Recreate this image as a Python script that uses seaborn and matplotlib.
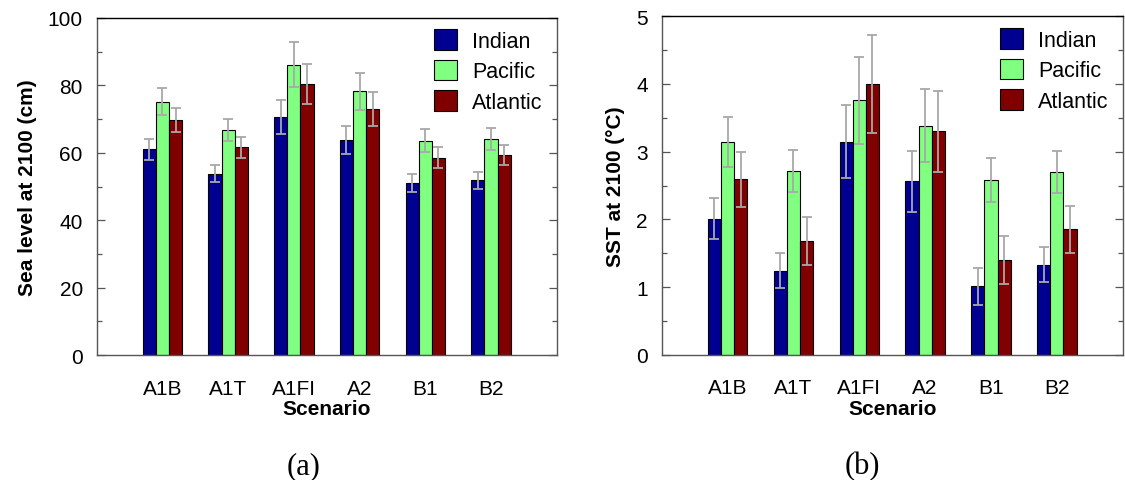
import numpy as np
import pandas as pd
import matplotlib
matplotlib.use("Agg")
import matplotlib.pyplot as plt
from matplotlib.ticker import MultipleLocator
import seaborn as sns

# Scenario categories and ocean basins
scenarios = ["A1B", "A1T", "A1FI", "A2", "B1", "B2"]
basins = ["Indian", "Pacific", "Atlantic"]

# Sea level rise at 2100 (cm) and its uncertainty
sea_indian = [61.0, 53.8, 70.6, 63.8, 51.1, 51.8]
sea_pacific = [75.2, 66.8, 86.1, 78.2, 63.6, 64.1]
sea_atlantic = [69.8, 61.6, 80.4, 72.9, 58.6, 59.4]
sea_err_indian = [3.0, 2.5, 5.1, 4.2, 2.7, 2.5]
sea_err_pacific = [4.0, 3.3, 6.7, 5.6, 3.4, 3.3]
sea_err_atlantic = [3.5, 3.0, 6.0, 5.0, 3.0, 3.0]

# SST change at 2100 (deg C) and its uncertainty
sst_indian = [2.01, 1.24, 3.15, 2.56, 1.01, 1.33]
sst_pacific = [3.14, 2.72, 3.76, 3.38, 2.58, 2.70]
sst_atlantic = [2.59, 1.68, 4.00, 3.30, 1.40, 1.85]
sst_err_indian = [0.30, 0.26, 0.54, 0.45, 0.27, 0.26]
sst_err_pacific = [0.37, 0.31, 0.64, 0.54, 0.32, 0.31]
sst_err_atlantic = [0.41, 0.35, 0.72, 0.60, 0.36, 0.34]

colors = ["#000090", "#80ff80", "#800000"]

sns.set_theme(style="white")
plt.rcParams["font.family"] = ["Liberation Sans", "DejaVu Sans"]
plt.rcParams["text.color"] = "black"
plt.rcParams["axes.labelcolor"] = "black"
plt.rcParams["xtick.labelcolor"] = "black"
plt.rcParams["ytick.labelcolor"] = "black"


def long_frame(series):
    rows = []
    for basin, vals in zip(basins, series):
        for sc, v in zip(scenarios, vals):
            rows.append({"Scenario": sc, "Basin": basin, "Value": v})
    return pd.DataFrame(rows)


def draw_panel(ax, series, errors, ylim, major, minor, ylabel, ylabelpad, legend_anchor):
    df = long_frame(series)
    sns.barplot(data=df, x="Scenario", y="Value", hue="Basin",
                order=scenarios, hue_order=basins, palette=colors,
                width=0.6, errorbar=None, saturation=1.0,
                edgecolor="black", linewidth=0.8, ax=ax)
    for cont, err in zip(ax.containers, errors):
        xs = [p.get_x() + p.get_width() / 2 for p in cont.patches]
        ys = [p.get_height() for p in cont.patches]
        ax.errorbar(xs, ys, yerr=err, fmt="none", ecolor="#a8a8a8",
                    elinewidth=1.3, capsize=3.3, capthick=1.3, zorder=5)
    ax.set_xlim(-1, 6)
    ax.set_ylim(*ylim)
    ax.yaxis.set_major_locator(MultipleLocator(major))
    ax.yaxis.set_minor_locator(MultipleLocator(minor))
    ax.tick_params(axis="y", which="major", direction="in", length=6, width=0.9,
                   color="#555555", left=True, right=True, labelsize=15, pad=10,
                   labelcolor="black")
    ax.tick_params(axis="y", which="minor", direction="in", length=3.5, width=0.9,
                   color="#555555", left=True, right=True)
    ax.tick_params(axis="x", which="both", bottom=False, top=False,
                   labelsize=15, pad=11, labelcolor="black")
    for side in ["left", "right", "bottom"]:
        ax.spines[side].set_color("#555555")
        ax.spines[side].set_linewidth(1.0)
    ax.spines["top"].set_color("black")
    ax.spines["top"].set_linewidth(1.0)
    ax.set_xlabel("Scenario", fontsize=15, fontweight="bold", labelpad=1)
    ax.set_ylabel(ylabel, fontsize=15, fontweight="bold", labelpad=ylabelpad)
    ax.legend(ax.containers, basins, loc="upper left", bbox_to_anchor=legend_anchor,
              frameon=False, fontsize=15.5, handlelength=1.07, handleheight=1.1,
              handletextpad=0.7, labelspacing=0.37, borderpad=0, borderaxespad=0)


fig = plt.figure(figsize=(11.25, 4.81), dpi=100)
W, H = 1125, 481
ax1 = fig.add_axes([96.7 / W, 1 - 356 / H, 460 / W, 337 / H])
ax2 = fig.add_axes([661.7 / W, 1 - 355.7 / H, 461 / W, 338.4 / H])

draw_panel(ax1, [sea_indian, sea_pacific, sea_atlantic],
           [sea_err_indian, sea_err_pacific, sea_err_atlantic],
           (0, 100), 20, 10, "Sea level at 2100 (cm)", 8, (0.733, 0.967))
draw_panel(ax2, [sst_indian, sst_pacific, sst_atlantic],
           [sst_err_indian, sst_err_pacific, sst_err_atlantic],
           (0, 5), 1, 0.5, "SST at 2100 (\u00b0C)", 8, (0.734, 0.965))

fig.text(303.5 / W, 1 - 467 / H, "(a)", family=["Liberation Serif", "DejaVu Serif"],
         fontsize=22, ha="center", va="center")
fig.text(862 / W, 1 - 467 / H, "(b)", family=["Liberation Serif", "DejaVu Serif"],
         fontsize=22, ha="center", va="center")

fig.savefig("out.png", dpi=100, facecolor="white")
